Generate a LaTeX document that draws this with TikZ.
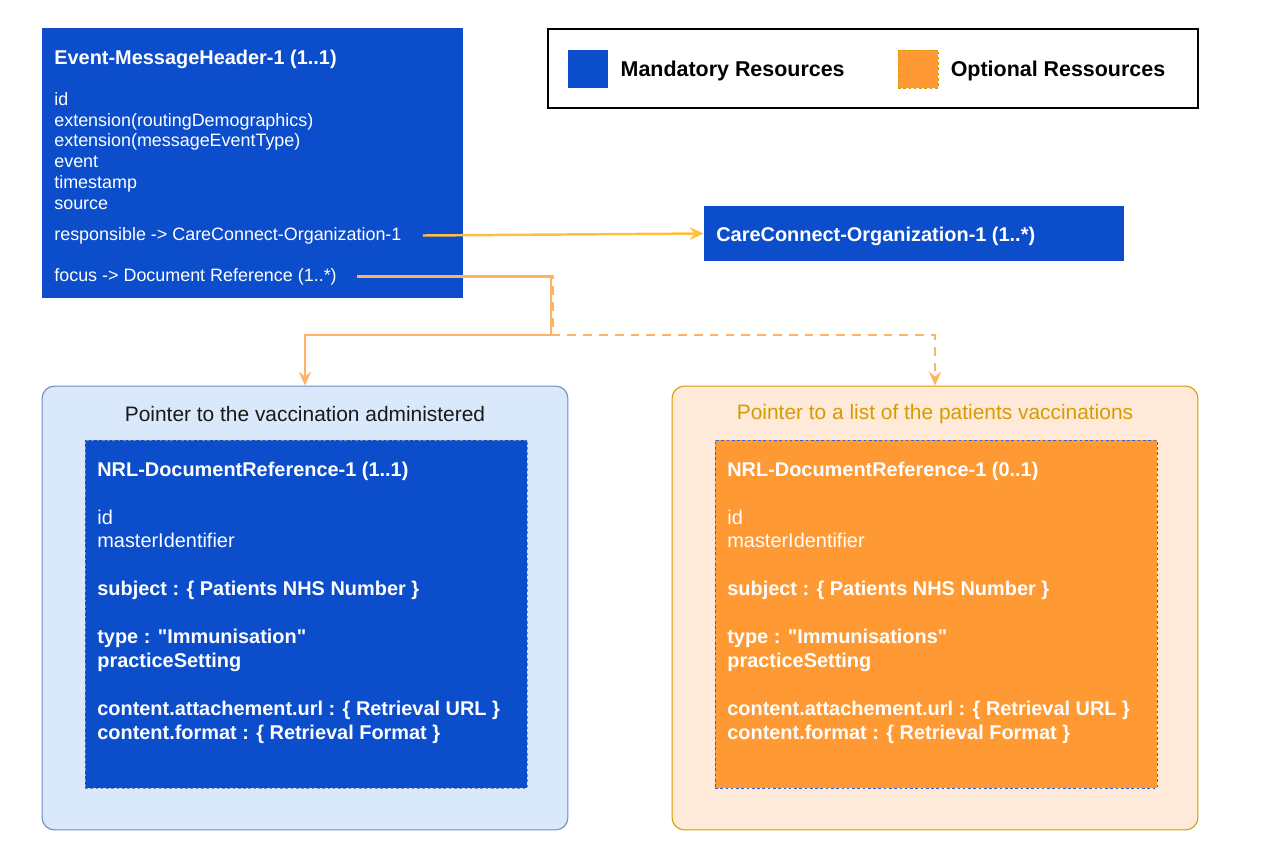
\documentclass[tikz,border=0pt]{standalone}
\usepackage{fontspec}
\setmainfont{Liberation Sans}[Ligatures=TeXOff]
\usepackage{tikz}
\usetikzlibrary{positioning}
\usetikzlibrary{arrows.meta}
\tikzset{>={Stealth[length=2.8mm,width=2.5mm,inset=1mm]}}

\definecolor{mandblue}{HTML}{0C4DCC}
\definecolor{optorange}{HTML}{FF9933}
\definecolor{optborder}{HTML}{D79B00}
\definecolor{bluebg}{HTML}{DAE8FC}
\definecolor{blueline}{HTML}{6C8EBF}
\definecolor{peachbg}{HTML}{FFE9D8}
\definecolor{respline}{HTML}{FFBF3C}
\definecolor{focusline}{HTML}{FFB366}
\definecolor{dashblue}{HTML}{2E62E0}

\begin{document}
\begin{tikzpicture}[x=0.02cm,y=-0.02cm]
    \tikzstyle{mandatory} = [fill=mandblue, draw=none, inner sep=0pt]
    \tikzstyle{optional} = [fill=optorange, inner sep=0pt]
    \tikzstyle{group} = [rounded corners=0.25cm, line width=0.6pt, inner sep=0pt]
    \tikzstyle{txt} = [text=white, inner sep=0pt, anchor=west, align=left, yshift=-0.03cm]
    \tikzstyle{keytxt} = [inner sep=0pt, yshift=-0.04cm, font=\bfseries\fontsize{12.2}{14}\selectfont]
    \tikzstyle{title} = [font=\bfseries\fontsize{11.34}{13.6}\selectfont]
    \tikzstyle{hbody} = [font=\fontsize{10.2}{11.9}\selectfont]
    \tikzstyle{dbody} = [font=\fontsize{11.34}{13.6}\selectfont]
    \tikzstyle{caption} = [inner sep=0pt, yshift=-0.03cm, font=\fontsize{11.9}{14}\selectfont]
    \useasboundingbox (0,0) rectangle (1275,856);

    % legend
    \node[draw=black, line width=0.8pt, minimum width=13cm, minimum height=1.58cm] (legend) at (873,68.5) {};
    \node[mandatory, minimum width=0.8cm, minimum height=0.76cm] (keyM) at (588,69) {};
    \node[keytxt, right=0.24cm of keyM] (keyMtxt) {Mandatory Resources};
    \node[optional, draw=optborder, line width=0.5pt, dash pattern=on 1.5pt off 1.5pt,
          minimum width=0.8cm, minimum height=0.76cm] (keyO) at (918,69) {};
    \node[keytxt, right=0.24cm of keyO] (keyOtxt) {Optional Ressources};

    % message header
    \node[mandatory, minimum width=8.42cm, minimum height=5.4cm] (header) at (252.5,163) {};
    \node[txt, title] (headertitle) at (54,58) {Event-MessageHeader-1 (1..1)};
    \node[txt, hbody] (headerbody) at (54,149.5) {id\\ extension(routingDemographics)\\ extension(messageEventType)\\ event\\ timestamp\\ source};
    \node[txt, hbody] (resp) at (54,234) {responsible -> CareConnect-Organization-1};
    \node[txt, hbody] (focus) at (54,275) {focus -> Document Reference (1..*)};

    % organization
    \node[mandatory, minimum width=8.4cm, minimum height=1.1cm] (org) at (914,233.5) {};
    \node[txt, title] (orgtitle) at (716,235) {CareConnect-Organization-1 (1..*)};

    % pointer groups
    \node[group, fill=bluebg, draw=blueline, minimum width=10.52cm, minimum height=8.88cm] (ptr1) at (305,608) {};
    \node[caption, text=black!90] (ptr1cap) at (305,413) {Pointer to the vaccination administered};
    \node[mandatory, draw=blueline, line width=0.5pt, dash pattern=on 1.5pt off 1.5pt,
          minimum width=8.84cm, minimum height=6.96cm] (doc1) at (306,614) {};
    \node[txt, dbody] (doc1txt) at (97,601) {\textbf{NRL-DocumentReference-1 (1..1)}\\[13.6pt]
        id\\ masterIdentifier\\[13.6pt]
        \textbf{subject : \{ Patients NHS Number \}}\\[13.6pt]
        \textbf{type : "Immunisation"}\\ \textbf{practiceSetting}\\[13.6pt]
        \textbf{content.attachement.url : \{ Retrieval URL \}}\\ \textbf{content.format : \{ Retrieval Format \}}};

    \node[group, fill=peachbg, draw=optborder, minimum width=10.52cm, minimum height=8.88cm] (ptr2) at (935,608) {};
    \node[caption, text=optborder] (ptr2cap) at (935,413) {Pointer to a list of the patients vaccinations};
    \node[optional, draw=dashblue, line width=0.5pt, dash pattern=on 1.5pt off 1.5pt,
          minimum width=8.84cm, minimum height=6.96cm] (doc2) at (936,614) {};
    \node[txt, dbody] (doc2txt) at (727,601) {\textbf{NRL-DocumentReference-1 (0..1)}\\[13.6pt]
        id\\ masterIdentifier\\[13.6pt]
        \textbf{subject : \{ Patients NHS Number \}}\\[13.6pt]
        \textbf{type : "Immunisations"}\\ \textbf{practiceSetting}\\[13.6pt]
        \textbf{content.attachement.url : \{ Retrieval URL \}}\\ \textbf{content.format : \{ Retrieval Format \}}};

    \coordinate (split1) at (551,335);
    \coordinate (split2) at (553,335);

    \draw[->, respline, line width=1.4pt] ([xshift=0.42cm]resp.east) -- (org.west);
    \draw[->, focusline, line width=1.4pt] ([xshift=0.4cm]focus.east) -| (split1) -| (ptr1.north);
    \draw[->, focusline, line width=1.4pt, dash pattern=on 5pt off 4pt] ([xshift=0.4cm]focus.east) -| (split2) -| (ptr2.north);
  \end{tikzpicture}
\end{document}
